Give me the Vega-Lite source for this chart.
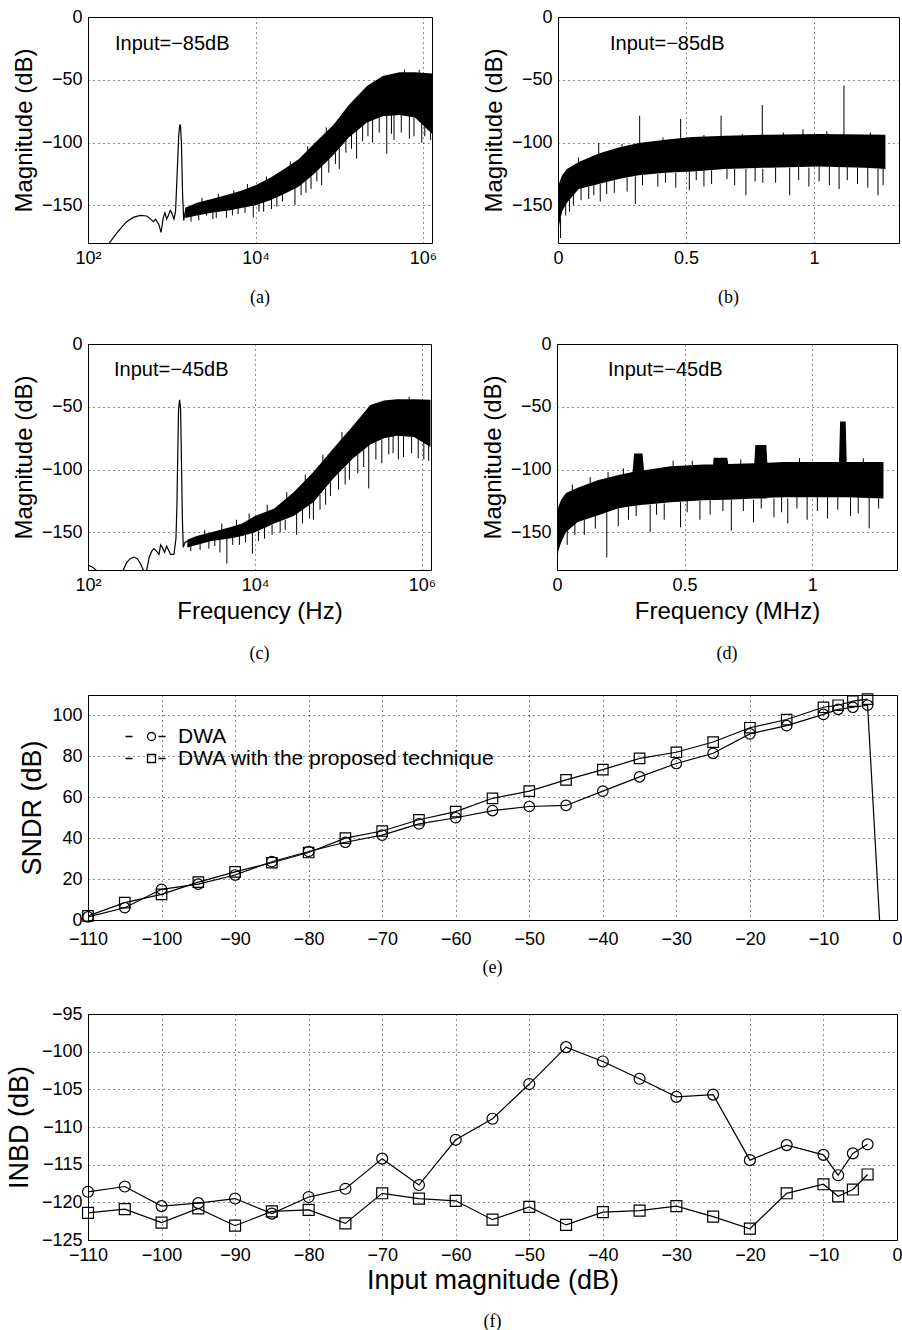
{
  "$schema": "https://vega.github.io/schema/vega-lite/v6.json",
  "background": "white",
  "padding": {"left": 4, "top": 7, "right": 2, "bottom": 2},
  "spacing": 26,
  "resolve": {"scale": {"shape": "independent"}, "legend": {"shape": "independent"}},
  "config": {
    "font": "Liberation Sans",
    "view": {"stroke": "black", "strokeWidth": 1},
    "axis": {
      "labelFont": "Liberation Sans", "labelFontSize": 18, "labelColor": "black", "labelFlush": false,
      "titleFont": "Liberation Sans", "titleFontSize": 24, "titleFontWeight": "normal", "titleColor": "black",
      "grid": true, "gridColor": "black", "gridDash": [1, 4], "gridOpacity": 0.9, "gridWidth": 1,
      "ticks": false, "domain": false, "labelPadding": 6, "titlePadding": 5
    },
    "title": {"font": "Liberation Serif", "fontSize": 18, "fontWeight": "normal", "color": "black"},
    "legend": {"labelFont": "Liberation Sans", "labelColor": "black"}
  },
  "datasets": {
    "a_line": [{"f":165,"m":-195},{"f":180,"m":-180},{"f":210,"m":-174},{"f":241,"m":-169},{"f":290,"m":-163},{"f":347,"m":-159.6},{"f":420,"m":-158},{"f":502,"m":-158.5},{"f":560,"m":-161},{"f":603,"m":-163},{"f":640,"m":-161},{"f":700,"m":-165},{"f":745,"m":-171.6},{"f":790,"m":-160},{"f":830,"m":-156},{"f":870,"m":-161},{"f":910,"m":-158},{"f":960,"m":-154},{"f":998,"m":-156},{"f":1064,"m":-161},{"f":1110,"m":-155},{"f":1160,"m":-125},{"f":1210,"m":-95},{"f":1245,"m":-86},{"f":1270,"m":-86},{"f":1305,"m":-100},{"f":1345,"m":-140},{"f":1390,"m":-162},{"f":1440,"m":-156},{"f":1500,"m":-152}],
    "a_band": [{"f":1450,"hi":-152,"lo":-160},{"f":2000,"hi":-148,"lo":-158},{"f":3000,"hi":-145,"lo":-156},{"f":5000,"hi":-141,"lo":-154},{"f":7000,"hi":-138,"lo":-152},{"f":10000,"hi":-134,"lo":-150},{"f":15000,"hi":-128,"lo":-146},{"f":22000,"hi":-121,"lo":-141},{"f":33000,"hi":-113,"lo":-135},{"f":50000,"hi":-101,"lo":-125},{"f":85000,"hi":-86,"lo":-110},{"f":130000,"hi":-70,"lo":-96},{"f":214000,"hi":-55,"lo":-84},{"f":330000,"hi":-47,"lo":-79},{"f":525000,"hi":-44,"lo":-78},{"f":800000,"hi":-44,"lo":-80},{"f":1280000,"hi":-45,"lo":-93}],
    "a_spk": [{"f":2600,"hi":-150,"lo":-158},{"f":3100,"hi":-150,"lo":-161},{"f":4500,"hi":-148,"lo":-160},{"f":6200,"hi":-146,"lo":-157},{"f":9400,"hi":-145,"lo":-159.6},{"f":12500,"hi":-142,"lo":-155},{"f":18000,"hi":-140,"lo":-151},{"f":29600,"hi":-130,"lo":-149.7},{"f":40000,"hi":-125,"lo":-140},{"f":61600,"hi":-118,"lo":-134},{"f":100000,"hi":-100,"lo":-121},{"f":161000,"hi":-88,"lo":-112.8},{"f":250000,"hi":-80,"lo":-100},{"f":369000,"hi":-78,"lo":-108.8},{"f":450000,"hi":-78,"lo":-98},{"f":687000,"hi":-78,"lo":-96.8},{"f":965000,"hi":-80,"lo":-100},{"f":1160000,"hi":-85,"lo":-90},{"f":2300,"hi":-150,"lo":-144},{"f":3600,"hi":-146,"lo":-141},{"f":5500,"hi":-143,"lo":-138},{"f":8000,"hi":-138,"lo":-133},{"f":13500,"hi":-132,"lo":-127},{"f":26000,"hi":-120,"lo":-115},{"f":42000,"hi":-108,"lo":-103},{"f":70000,"hi":-93,"lo":-88},{"f":600000,"hi":-46,"lo":-42},{"f":900000,"hi":-46,"lo":-42},{"f":1700,"hi":-158,"lo":-163},{"f":2100,"hi":-156,"lo":-162},{"f":3400,"hi":-154,"lo":-160},{"f":5300,"hi":-152,"lo":-158},{"f":7500,"hi":-150,"lo":-156},{"f":11000,"hi":-148,"lo":-155},{"f":15500,"hi":-145,"lo":-153},{"f":21000,"hi":-140,"lo":-147},{"f":35000,"hi":-133,"lo":-142},{"f":46000,"hi":-127,"lo":-137},{"f":54000,"hi":-123,"lo":-131},{"f":75000,"hi":-113,"lo":-124},{"f":90000,"hi":-108,"lo":-117},{"f":120000,"hi":-98,"lo":-108},{"f":140000,"hi":-94,"lo":-105},{"f":190000,"hi":-86,"lo":-99},{"f":220000,"hi":-83,"lo":-95},{"f":300000,"hi":-80,"lo":-92},{"f":420000,"hi":-78,"lo":-93},{"f":550000,"hi":-78,"lo":-92},{"f":780000,"hi":-80,"lo":-95},{"f":1050000,"hi":-82,"lo":-95},{"f":1230000,"hi":-88,"lo":-98}],
    "a_txt": [{"f":210,"m":-21.6,"t":"Input=−85dB"}],
    "b_band": [{"f":0,"hi":-142,"lo":-180},{"f":0.005,"hi":-132,"lo":-165},{"f":0.016,"hi":-126,"lo":-155},{"f":0.035,"hi":-121,"lo":-148},{"f":0.081,"hi":-115.5,"lo":-137},{"f":0.159,"hi":-108.8,"lo":-133},{"f":0.237,"hi":-104,"lo":-129},{"f":0.315,"hi":-100.4,"lo":-126},{"f":0.419,"hi":-97.8,"lo":-124},{"f":0.523,"hi":-95.6,"lo":-123},{"f":0.654,"hi":-94.5,"lo":-121},{"f":0.823,"hi":-93.7,"lo":-120},{"f":1.018,"hi":-93.2,"lo":-119},{"f":1.2,"hi":-93.5,"lo":-120},{"f":1.279,"hi":-93.7,"lo":-121}],
    "b_spk": [{"f":0.159,"hi":-100.5,"lo":-109},{"f":0.319,"hi":-78.6,"lo":-101},{"f":0.479,"hi":-81.2,"lo":-98},{"f":0.637,"hi":-78.6,"lo":-95},{"f":0.798,"hi":-70,"lo":-94},{"f":0.957,"hi":-89.4,"lo":-94},{"f":1.117,"hi":-54.5,"lo":-94},{"f":0.01,"hi":-160,"lo":-176},{"f":0.03,"hi":-148,"lo":-158},{"f":0.06,"hi":-140,"lo":-150},{"f":0.12,"hi":-135,"lo":-145},{"f":0.165,"hi":-133,"lo":-147},{"f":0.22,"hi":-130,"lo":-140},{"f":0.302,"hi":-127,"lo":-149},{"f":0.39,"hi":-125,"lo":-135},{"f":0.46,"hi":-124,"lo":-136},{"f":0.513,"hi":-123,"lo":-138},{"f":0.6,"hi":-122,"lo":-133},{"f":0.734,"hi":-121,"lo":-142},{"f":0.8,"hi":-121,"lo":-132},{"f":0.905,"hi":-120,"lo":-142},{"f":0.98,"hi":-120,"lo":-135},{"f":1.098,"hi":-119,"lo":-137},{"f":1.17,"hi":-120,"lo":-133},{"f":1.25,"hi":-121,"lo":-142},{"f":0.08,"hi":-120,"lo":-112},{"f":0.25,"hi":-108,"lo":-101},{"f":0.41,"hi":-102,"lo":-96},{"f":0.57,"hi":-99,"lo":-94},{"f":0.72,"hi":-98,"lo":-93},{"f":0.88,"hi":-97,"lo":-92},{"f":1.05,"hi":-97,"lo":-91},{"f":1.22,"hi":-97,"lo":-92},{"f":0.045,"hi":-145,"lo":-155},{"f":0.09,"hi":-136,"lo":-146},{"f":0.14,"hi":-134,"lo":-142},{"f":0.19,"hi":-131,"lo":-141},{"f":0.27,"hi":-128,"lo":-139},{"f":0.33,"hi":-126,"lo":-134},{"f":0.42,"hi":-124,"lo":-132},{"f":0.54,"hi":-122,"lo":-130},{"f":0.57,"hi":-122,"lo":-135},{"f":0.66,"hi":-121,"lo":-129},{"f":0.69,"hi":-121,"lo":-134},{"f":0.77,"hi":-120,"lo":-131},{"f":0.85,"hi":-120,"lo":-132},{"f":0.94,"hi":-119,"lo":-130},{"f":1.02,"hi":-119,"lo":-131},{"f":1.06,"hi":-119,"lo":-134},{"f":1.13,"hi":-119,"lo":-130},{"f":1.21,"hi":-120,"lo":-136},{"f":1.27,"hi":-121,"lo":-134}],
    "b_txt": [{"f":0.203,"m":-21.6,"t":"Input=−85dB"}],
    "c_line": [{"f":100,"m":-176},{"f":115,"m":-178},{"f":129,"m":-181},{"f":145,"m":-190},{"f":245,"m":-190},{"f":265,"m":-180},{"f":290,"m":-174},{"f":320,"m":-171},{"f":355,"m":-169.7},{"f":390,"m":-171},{"f":425,"m":-175},{"f":460,"m":-180},{"f":480,"m":-186},{"f":505,"m":-180},{"f":540,"m":-170},{"f":580,"m":-165},{"f":616,"m":-163},{"f":660,"m":-165},{"f":709,"m":-167.5},{"f":740,"m":-160},{"f":777,"m":-162},{"f":826,"m":-166},{"f":874,"m":-161},{"f":920,"m":-164},{"f":974,"m":-167.6},{"f":1070,"m":-167.6},{"f":1130,"m":-155},{"f":1160,"m":-130},{"f":1190,"m":-85},{"f":1215,"m":-52},{"f":1250,"m":-44.5},{"f":1285,"m":-52},{"f":1320,"m":-100},{"f":1350,"m":-140},{"f":1383,"m":-162},{"f":1450,"m":-158},{"f":1545,"m":-157}],
    "c_band": [{"f":1545,"hi":-156,"lo":-162},{"f":2000,"hi":-153,"lo":-160},{"f":3000,"hi":-150,"lo":-157},{"f":5000,"hi":-146,"lo":-155},{"f":7000,"hi":-143,"lo":-153},{"f":10000,"hi":-137,"lo":-150},{"f":17000,"hi":-131,"lo":-143},{"f":29000,"hi":-118,"lo":-137},{"f":50000,"hi":-102,"lo":-126},{"f":87000,"hi":-83,"lo":-107},{"f":150000,"hi":-65,"lo":-91},{"f":240000,"hi":-48.5,"lo":-80},{"f":350000,"hi":-45,"lo":-75},{"f":500000,"hi":-44,"lo":-73},{"f":800000,"hi":-44,"lo":-74},{"f":1260000,"hi":-44.5,"lo":-82}],
    "c_spk": [{"f":2800,"hi":-155,"lo":-163},{"f":3800,"hi":-153,"lo":-166},{"f":4600,"hi":-152,"lo":-175},{"f":6500,"hi":-150,"lo":-160},{"f":9300,"hi":-148,"lo":-167},{"f":13000,"hi":-145,"lo":-155},{"f":20000,"hi":-140,"lo":-150},{"f":31500,"hi":-134,"lo":-152},{"f":50000,"hi":-124,"lo":-140},{"f":70000,"hi":-115,"lo":-128},{"f":120000,"hi":-98,"lo":-112},{"f":230000,"hi":-80,"lo":-115},{"f":400000,"hi":-74,"lo":-88},{"f":600000,"hi":-73,"lo":-90},{"f":900000,"hi":-74,"lo":-91},{"f":1200000,"hi":-80,"lo":-93},{"f":2500,"hi":-153,"lo":-148},{"f":4000,"hi":-148,"lo":-143},{"f":6000,"hi":-145,"lo":-140},{"f":8500,"hi":-140,"lo":-135},{"f":14000,"hi":-134,"lo":-128},{"f":24000,"hi":-124,"lo":-118},{"f":40000,"hi":-110,"lo":-104},{"f":65000,"hi":-94,"lo":-88},{"f":110000,"hi":-76,"lo":-70},{"f":700000,"hi":-45,"lo":-42},{"f":1700,"hi":-161,"lo":-165},{"f":2200,"hi":-159,"lo":-164},{"f":3300,"hi":-156,"lo":-161},{"f":5400,"hi":-154,"lo":-160},{"f":7700,"hi":-152,"lo":-158},{"f":11000,"hi":-149,"lo":-157},{"f":16000,"hi":-144,"lo":-152},{"f":23000,"hi":-140,"lo":-148},{"f":37000,"hi":-132,"lo":-143},{"f":45000,"hi":-128,"lo":-139},{"f":60000,"hi":-120,"lo":-132},{"f":80000,"hi":-110,"lo":-121},{"f":100000,"hi":-103,"lo":-116},{"f":135000,"hi":-94,"lo":-108},{"f":170000,"hi":-88,"lo":-103},{"f":200000,"hi":-84,"lo":-98},{"f":280000,"hi":-78,"lo":-92},{"f":330000,"hi":-76,"lo":-95},{"f":450000,"hi":-73,"lo":-87},{"f":520000,"hi":-73,"lo":-92},{"f":750000,"hi":-74,"lo":-87},{"f":1050000,"hi":-77,"lo":-92}],
    "c_txt": [{"f":205,"m":-20.5,"t":"Input=−45dB"}],
    "d_band": [{"f":0,"hi":-140,"lo":-180},{"f":0.005,"hi":-130,"lo":-165},{"f":0.016,"hi":-124,"lo":-158},{"f":0.035,"hi":-118.7,"lo":-150},{"f":0.081,"hi":-114.5,"lo":-141.8},{"f":0.159,"hi":-108.5,"lo":-136.5},{"f":0.237,"hi":-104.5,"lo":-131},{"f":0.296,"hi":-102,"lo":-129},{"f":0.302,"hi":-87.2,"lo":-129},{"f":0.335,"hi":-87.2,"lo":-128},{"f":0.341,"hi":-100.5,"lo":-128},{"f":0.445,"hi":-97.3,"lo":-126},{"f":0.575,"hi":-96,"lo":-124.5},{"f":0.611,"hi":-96,"lo":-124.3},{"f":0.614,"hi":-90.6,"lo":-124.3},{"f":0.667,"hi":-90.6,"lo":-124},{"f":0.671,"hi":-95.5,"lo":-124},{"f":0.773,"hi":-95,"lo":-123},{"f":0.777,"hi":-80.5,"lo":-123},{"f":0.82,"hi":-80.5,"lo":-123},{"f":0.824,"hi":-94.6,"lo":-122.5},{"f":0.888,"hi":-94,"lo":-122},{"f":1.105,"hi":-94,"lo":-122},{"f":1.109,"hi":-61.8,"lo":-122},{"f":1.131,"hi":-61.8,"lo":-122},{"f":1.135,"hi":-94,"lo":-122},{"f":1.279,"hi":-94,"lo":-123}],
    "d_spk": [{"f":0.2,"hi":-102,"lo":-108},{"f":0.455,"hi":-93,"lo":-100},{"f":0.107,"hi":-140,"lo":-152},{"f":0.195,"hi":-134,"lo":-170},{"f":0.24,"hi":-130,"lo":-145},{"f":0.365,"hi":-128,"lo":-150},{"f":0.42,"hi":-127,"lo":-140},{"f":0.484,"hi":-126,"lo":-146},{"f":0.56,"hi":-125,"lo":-140},{"f":0.683,"hi":-124,"lo":-148.6},{"f":0.77,"hi":-124,"lo":-142},{"f":0.85,"hi":-123,"lo":-138},{"f":0.904,"hi":-123,"lo":-143},{"f":0.98,"hi":-122,"lo":-140},{"f":1.06,"hi":-122,"lo":-139},{"f":1.15,"hi":-122,"lo":-137},{"f":1.223,"hi":-122,"lo":-146.8},{"f":0.06,"hi":-118,"lo":-112},{"f":0.13,"hi":-112,"lo":-106},{"f":0.26,"hi":-104,"lo":-99},{"f":0.53,"hi":-97,"lo":-93},{"f":0.72,"hi":-96,"lo":-92},{"f":0.95,"hi":-95,"lo":-91},{"f":1.2,"hi":-95,"lo":-91},{"f":0.04,"hi":-148,"lo":-160},{"f":0.07,"hi":-143,"lo":-152},{"f":0.15,"hi":-137,"lo":-147},{"f":0.28,"hi":-129,"lo":-140},{"f":0.31,"hi":-129,"lo":-137},{"f":0.39,"hi":-127,"lo":-136},{"f":0.51,"hi":-125,"lo":-134},{"f":0.6,"hi":-124,"lo":-136},{"f":0.65,"hi":-124,"lo":-133},{"f":0.73,"hi":-123,"lo":-133},{"f":0.8,"hi":-123,"lo":-131},{"f":0.88,"hi":-122,"lo":-134},{"f":0.94,"hi":-122,"lo":-131},{"f":1.02,"hi":-122,"lo":-133},{"f":1.1,"hi":-122,"lo":-132},{"f":1.18,"hi":-122,"lo":-135},{"f":1.26,"hi":-123,"lo":-131}],
    "d_txt": [{"f":0.2,"m":-20.5,"t":"Input=−45dB"}],
    "e": [
      {"inp":-110,"v":1.5,"s":"DWA"},{"inp":-105,"v":6,"s":"DWA"},{"inp":-100,"v":15,"s":"DWA"},{"inp":-95,"v":17.5,"s":"DWA"},{"inp":-90,"v":22,"s":"DWA"},{"inp":-85,"v":28.5,"s":"DWA"},{"inp":-80,"v":33.5,"s":"DWA"},{"inp":-75,"v":38,"s":"DWA"},{"inp":-70,"v":41.5,"s":"DWA"},{"inp":-65,"v":47,"s":"DWA"},{"inp":-60,"v":50,"s":"DWA"},{"inp":-55,"v":53.5,"s":"DWA"},{"inp":-50,"v":55.5,"s":"DWA"},{"inp":-45,"v":56,"s":"DWA"},{"inp":-40,"v":63,"s":"DWA"},{"inp":-35,"v":70,"s":"DWA"},{"inp":-30,"v":76.5,"s":"DWA"},{"inp":-25,"v":81.5,"s":"DWA"},{"inp":-20,"v":91,"s":"DWA"},{"inp":-15,"v":95,"s":"DWA"},{"inp":-10,"v":100.5,"s":"DWA"},{"inp":-8,"v":103,"s":"DWA"},{"inp":-6,"v":104,"s":"DWA"},{"inp":-4,"v":105,"s":"DWA"},{"inp":-2,"v":-24,"s":"DWA"},
      {"inp":-110,"v":2,"s":"DWA with the proposed technique"},{"inp":-105,"v":8.5,"s":"DWA with the proposed technique"},{"inp":-100,"v":12.5,"s":"DWA with the proposed technique"},{"inp":-95,"v":18.5,"s":"DWA with the proposed technique"},{"inp":-90,"v":23.5,"s":"DWA with the proposed technique"},{"inp":-85,"v":28,"s":"DWA with the proposed technique"},{"inp":-80,"v":33,"s":"DWA with the proposed technique"},{"inp":-75,"v":40,"s":"DWA with the proposed technique"},{"inp":-70,"v":43.5,"s":"DWA with the proposed technique"},{"inp":-65,"v":49,"s":"DWA with the proposed technique"},{"inp":-60,"v":53,"s":"DWA with the proposed technique"},{"inp":-55,"v":59.5,"s":"DWA with the proposed technique"},{"inp":-50,"v":63,"s":"DWA with the proposed technique"},{"inp":-45,"v":68.5,"s":"DWA with the proposed technique"},{"inp":-40,"v":73.5,"s":"DWA with the proposed technique"},{"inp":-35,"v":79,"s":"DWA with the proposed technique"},{"inp":-30,"v":82,"s":"DWA with the proposed technique"},{"inp":-25,"v":87,"s":"DWA with the proposed technique"},{"inp":-20,"v":94,"s":"DWA with the proposed technique"},{"inp":-15,"v":98,"s":"DWA with the proposed technique"},{"inp":-10,"v":104,"s":"DWA with the proposed technique"},{"inp":-8,"v":105,"s":"DWA with the proposed technique"},{"inp":-6,"v":107,"s":"DWA with the proposed technique"},{"inp":-4,"v":108,"s":"DWA with the proposed technique"}
    ],
    "f": [
      {"inp":-110,"v":-118.6,"s":"DWA"},{"inp":-105,"v":-117.9,"s":"DWA"},{"inp":-100,"v":-120.5,"s":"DWA"},{"inp":-95,"v":-120.1,"s":"DWA"},{"inp":-90,"v":-119.5,"s":"DWA"},{"inp":-85,"v":-121.5,"s":"DWA"},{"inp":-80,"v":-119.3,"s":"DWA"},{"inp":-75,"v":-118.2,"s":"DWA"},{"inp":-70,"v":-114.2,"s":"DWA"},{"inp":-65,"v":-117.7,"s":"DWA"},{"inp":-60,"v":-111.7,"s":"DWA"},{"inp":-55,"v":-108.9,"s":"DWA"},{"inp":-50,"v":-104.3,"s":"DWA"},{"inp":-45,"v":-99.4,"s":"DWA"},{"inp":-40,"v":-101.3,"s":"DWA"},{"inp":-35,"v":-103.6,"s":"DWA"},{"inp":-30,"v":-106,"s":"DWA"},{"inp":-25,"v":-105.7,"s":"DWA"},{"inp":-20,"v":-114.4,"s":"DWA"},{"inp":-15,"v":-112.4,"s":"DWA"},{"inp":-10,"v":-113.7,"s":"DWA"},{"inp":-8,"v":-116.4,"s":"DWA"},{"inp":-6,"v":-113.5,"s":"DWA"},{"inp":-4,"v":-112.3,"s":"DWA"},
      {"inp":-110,"v":-121.4,"s":"DWA with the proposed technique"},{"inp":-105,"v":-120.9,"s":"DWA with the proposed technique"},{"inp":-100,"v":-122.7,"s":"DWA with the proposed technique"},{"inp":-95,"v":-120.8,"s":"DWA with the proposed technique"},{"inp":-90,"v":-123.1,"s":"DWA with the proposed technique"},{"inp":-85,"v":-121.2,"s":"DWA with the proposed technique"},{"inp":-80,"v":-121,"s":"DWA with the proposed technique"},{"inp":-75,"v":-122.8,"s":"DWA with the proposed technique"},{"inp":-70,"v":-118.8,"s":"DWA with the proposed technique"},{"inp":-65,"v":-119.5,"s":"DWA with the proposed technique"},{"inp":-60,"v":-119.8,"s":"DWA with the proposed technique"},{"inp":-55,"v":-122.3,"s":"DWA with the proposed technique"},{"inp":-50,"v":-120.6,"s":"DWA with the proposed technique"},{"inp":-45,"v":-123,"s":"DWA with the proposed technique"},{"inp":-40,"v":-121.3,"s":"DWA with the proposed technique"},{"inp":-35,"v":-121.1,"s":"DWA with the proposed technique"},{"inp":-30,"v":-120.5,"s":"DWA with the proposed technique"},{"inp":-25,"v":-121.9,"s":"DWA with the proposed technique"},{"inp":-20,"v":-123.5,"s":"DWA with the proposed technique"},{"inp":-15,"v":-118.8,"s":"DWA with the proposed technique"},{"inp":-10,"v":-117.6,"s":"DWA with the proposed technique"},{"inp":-8,"v":-119.2,"s":"DWA with the proposed technique"},{"inp":-6,"v":-118.3,"s":"DWA with the proposed technique"},{"inp":-4,"v":-116.3,"s":"DWA with the proposed technique"}
    ]
  },
  "vconcat": [
    {
      "spacing": 43,
      "hconcat": [
        {
          "width": 344, "height": 226,
          "title": {"text": "(a)", "orient": "bottom", "offset": 22},
          "encoding": {"x": {"field": "f", "type": "quantitative", "scale": {"type": "log", "domain": [100, 1280000], "nice": false}, "axis": {"values": [100, 10000, 1000000], "labelExpr": "datum.value == 100 ? '10²' : datum.value == 10000 ? '10⁴' : '10⁶'", "title": null}}},
          "layer": [
            {"data": {"name": "a_band"}, "mark": {"type": "area", "color": "black", "clip": true}, "encoding": {"y": {"field": "hi", "type": "quantitative", "scale": {"domain": [-180, 0], "nice": false, "zero": false}, "axis": {"values": [-150, -100, -50, 0], "title": "Magnitude (dB)"}}, "y2": {"field": "lo"}}},
            {"data": {"name": "a_spk"}, "mark": {"type": "rule", "color": "black", "strokeWidth": 1, "clip": true}, "encoding": {"y": {"field": "hi", "type": "quantitative"}, "y2": {"field": "lo"}}},
            {"data": {"name": "a_line"}, "mark": {"type": "line", "color": "black", "strokeWidth": 1.2, "clip": true}, "encoding": {"y": {"field": "m", "type": "quantitative"}}},
            {"data": {"name": "a_txt"}, "mark": {"type": "text", "align": "left", "baseline": "middle", "fontSize": 20, "color": "black"}, "encoding": {"y": {"field": "m", "type": "quantitative"}, "text": {"field": "t"}}}
          ]
        },
        {
          "width": 341, "height": 226,
          "title": {"text": "(b)", "orient": "bottom", "offset": 22},
          "encoding": {"x": {"field": "f", "type": "quantitative", "scale": {"domain": [0, 1.332], "nice": false}, "axis": {"values": [0, 0.5, 1], "format": "~g", "title": null}}},
          "layer": [
            {"data": {"name": "b_band"}, "mark": {"type": "area", "color": "black", "clip": true}, "encoding": {"y": {"field": "hi", "type": "quantitative", "scale": {"domain": [-180, 0], "nice": false, "zero": false}, "axis": {"values": [-150, -100, -50, 0], "title": "Magnitude (dB)"}}, "y2": {"field": "lo"}}},
            {"data": {"name": "b_spk"}, "mark": {"type": "rule", "color": "black", "strokeWidth": 1, "clip": true}, "encoding": {"y": {"field": "hi", "type": "quantitative"}, "y2": {"field": "lo"}}},
            {"data": {"name": "b_txt"}, "mark": {"type": "text", "align": "left", "baseline": "middle", "fontSize": 20, "color": "black"}, "encoding": {"y": {"field": "m", "type": "quantitative"}, "text": {"field": "t"}}}
          ]
        }
      ]
    },
    {
      "spacing": 43,
      "hconcat": [
        {
          "width": 343, "height": 226,
          "title": {"text": "(c)", "orient": "bottom", "offset": 22},
          "encoding": {"x": {"field": "f", "type": "quantitative", "scale": {"type": "log", "domain": [100, 1280000], "nice": false}, "axis": {"values": [100, 10000, 1000000], "labelExpr": "datum.value == 100 ? '10²' : datum.value == 10000 ? '10⁴' : '10⁶'", "title": "Frequency (Hz)"}}},
          "layer": [
            {"data": {"name": "c_band"}, "mark": {"type": "area", "color": "black", "clip": true}, "encoding": {"y": {"field": "hi", "type": "quantitative", "scale": {"domain": [-180, 0], "nice": false, "zero": false}, "axis": {"values": [-150, -100, -50, 0], "title": "Magnitude (dB)"}}, "y2": {"field": "lo"}}},
            {"data": {"name": "c_spk"}, "mark": {"type": "rule", "color": "black", "strokeWidth": 1, "clip": true}, "encoding": {"y": {"field": "hi", "type": "quantitative"}, "y2": {"field": "lo"}}},
            {"data": {"name": "c_line"}, "mark": {"type": "line", "color": "black", "strokeWidth": 1.2, "clip": true}, "encoding": {"y": {"field": "m", "type": "quantitative"}}},
            {"data": {"name": "c_txt"}, "mark": {"type": "text", "align": "left", "baseline": "middle", "fontSize": 20, "color": "black"}, "encoding": {"y": {"field": "m", "type": "quantitative"}, "text": {"field": "t"}}}
          ]
        },
        {
          "width": 340, "height": 226,
          "title": {"text": "(d)", "orient": "bottom", "offset": 22},
          "encoding": {"x": {"field": "f", "type": "quantitative", "scale": {"domain": [0, 1.332], "nice": false}, "axis": {"values": [0, 0.5, 1], "format": "~g", "title": "Frequency (MHz)"}}},
          "layer": [
            {"data": {"name": "d_band"}, "mark": {"type": "area", "color": "black", "clip": true}, "encoding": {"y": {"field": "hi", "type": "quantitative", "scale": {"domain": [-180, 0], "nice": false, "zero": false}, "axis": {"values": [-150, -100, -50, 0], "title": "Magnitude (dB)"}}, "y2": {"field": "lo"}}},
            {"data": {"name": "d_spk"}, "mark": {"type": "rule", "color": "black", "strokeWidth": 1, "clip": true}, "encoding": {"y": {"field": "hi", "type": "quantitative"}, "y2": {"field": "lo"}}},
            {"data": {"name": "d_txt"}, "mark": {"type": "text", "align": "left", "baseline": "middle", "fontSize": 20, "color": "black"}, "encoding": {"y": {"field": "m", "type": "quantitative"}, "text": {"field": "t"}}}
          ]
        }
      ]
    },
    {
      "width": 809, "height": 225,
      "title": {"text": "(e)", "orient": "bottom", "offset": 11},
      "data": {"name": "e"},
      "encoding": {
        "x": {"field": "inp", "type": "quantitative", "scale": {"domain": [-110, 0], "nice": false}, "axis": {"values": [-110, -100, -90, -80, -70, -60, -50, -40, -30, -20, -10, 0], "title": null, "labelPadding": 10}},
        "y": {"field": "v", "type": "quantitative", "scale": {"domain": [0, 110], "nice": false}, "axis": {"values": [0, 20, 40, 60, 80, 100], "title": "SNDR (dB)", "titleFontSize": 27}}
      },
      "resolve": {"scale": {"shape": "independent"}, "legend": {"shape": "independent"}},
      "layer": [
        {"mark": {"type": "line", "color": "black", "strokeWidth": 1.2, "clip": true}, "encoding": {"detail": {"field": "s"}}},
        {"transform": [{"filter": "datum.v >= 0"}], "mark": {"type": "point", "filled": false, "color": "black", "strokeWidth": 1.2, "opacity": 1}, "encoding": {"shape": {"field": "s", "type": "nominal", "scale": {"domain": ["DWA", "DWA with the proposed technique"], "range": ["circle", "square"]}, "legend": null}, "size": {"value": 110}}},
        {"transform": [{"filter": "datum.v >= 0"}], "mark": {"type": "point", "filled": false, "color": "black", "strokeWidth": 1.2, "opacity": 0}, "encoding": {"shape": {"field": "s", "type": "nominal", "scale": {"domain": ["DWA", "DWA with the proposed technique"], "range": ["M-6.5,0L-4.75,0M-1,0A1,1,0,1,1,1,0A1,1,0,1,1,-1,0M1.75,0L3.5,0", "M-6.5,0L-4.75,0M-1,-1L1,-1L1,1L-1,1ZM1.75,0L3.5,0"]}, "legend": {"title": null, "orient": "none", "legendX": 53, "legendY": 31, "labelFontSize": 21, "labelLimit": 600, "symbolSize": 64, "symbolOpacity": 1, "symbolStrokeWidth": 1.3, "symbolStrokeColor": "black", "symbolFillColor": "transparent", "labelOffset": 16, "rowPadding": 0, "padding": 0}}, "size": {"value": 64}}}
      ]
    },
    {
      "width": 809, "height": 226,
      "title": {"text": "(f)", "orient": "bottom", "offset": 20},
      "data": {"name": "f"},
      "encoding": {
        "x": {"field": "inp", "type": "quantitative", "scale": {"domain": [-110, 0], "nice": false}, "axis": {"values": [-110, -100, -90, -80, -70, -60, -50, -40, -30, -20, -10, 0], "title": "Input magnitude (dB)", "titleFontSize": 27, "titlePadding": 3}},
        "y": {"field": "v", "type": "quantitative", "scale": {"domain": [-125, -95], "nice": false, "zero": false}, "axis": {"values": [-125, -120, -115, -110, -105, -100, -95], "title": "INBD (dB)", "titleFontSize": 27, "titlePadding": 8}}
      },
      "layer": [
        {"mark": {"type": "line", "color": "black", "strokeWidth": 1.2}, "encoding": {"detail": {"field": "s"}}},
        {"mark": {"type": "point", "filled": false, "color": "black", "strokeWidth": 1.2, "opacity": 1}, "encoding": {"shape": {"field": "s", "type": "nominal", "scale": {"domain": ["DWA", "DWA with the proposed technique"], "range": ["circle", "square"]}, "legend": null}, "size": {"value": 120}}}
      ]
    }
  ]
}
